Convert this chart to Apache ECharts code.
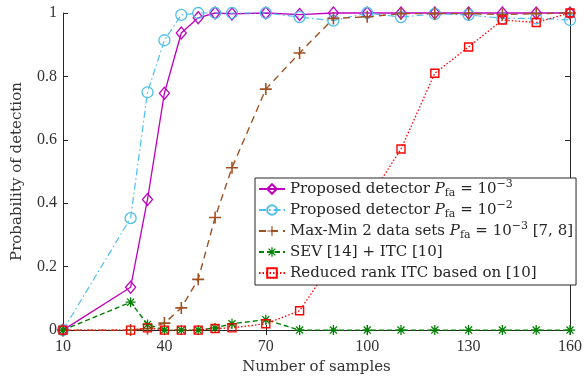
<!DOCTYPE html>
<html>
<head>
<meta charset="utf-8">
<script src="https://cdn.jsdelivr.net/npm/echarts@6/dist/echarts.min.js"></script>
<style>
html,body{margin:0;padding:0;background:#fff;}
#chart{width:585px;height:380px;}
</style>
</head>
<body>
<div id="chart"></div>
<script>
// ---- data ----
var samples = [10, 30, 35, 40, 45, 50, 55, 60, 70, 80, 90, 100, 110, 120, 130, 140, 150, 160];
var proposed1e3 = [0, 0.135, 0.412, 0.747, 0.937, 0.985, 1.0, 0.997, 1.0, 0.995, 1.0, 1.0, 1.0, 1.0, 1.0, 1.0, 1.0, 1.0];
var proposed1e2 = [0, 0.353, 0.75, 0.914, 0.994, 1.0, 1.0, 1.0, 1.0, 0.987, 0.976, 1.0, 0.987, 0.997, 0.994, 0.983, 0.983, 0.978];
var maxMin = [0, 0, 0.004, 0.022, 0.07, 0.16, 0.355, 0.512, 0.76, 0.874, 0.983, 0.988, 0.998, 0.998, 0.998, 0.995, 0.998, 1.0];
var sevItc = [0, 0.088, 0.018, 0, 0, 0, 0.007, 0.02, 0.033, 0, 0, 0, 0, 0, 0, 0, 0, 0];
var reducedRank = [0, 0, 0.007, 0, 0, 0, 0.005, 0.007, 0.02, 0.061, 0.218, 0.405, 0.571, 0.81, 0.893, 0.978, 0.97, 1.0];
var seriesNames = [
  'Proposed detector Pfa = 1e-3',
  'Proposed detector Pfa = 1e-2',
  'Max-Min 2 data sets Pfa = 1e-3 [7, 8]',
  'SEV [14] + ITC [10]',
  'Reduced rank ITC based on [10]'
];
var legendRich = [
  '{t|Proposed detector }{i|P}{sub|fa}{t| = 10}{sup|\u22123}',
  '{t|Proposed detector }{i|P}{sub|fa}{t| = 10}{sup|\u22122}',
  '{t|Max-Min 2 data sets }{i|P}{sub|fa}{t| = 10}{sup|\u22123}{t| [7, 8]}',
  '{t|SEV [14] + ITC [10]}{sub| }{sup| }',
  '{t|Reduced rank ITC based on [10]}{sub| }{sup| }'
];
var xTicks = {min: 10, max: 160, interval: 30};
var yTicks = {min: 0, max: 1, interval: 0.2};

function pairs(ys) { return samples.map(function (x, i) { return [x, ys[i]]; }); }

var plusPath = 'path://M-0.13,-1 L0.13,-1 L0.13,-0.13 L1,-0.13 L1,0.13 L0.13,0.13 L0.13,1 L-0.13,1 L-0.13,0.13 L-1,0.13 L-1,-0.13 L-0.13,-0.13 Z';
function asteriskPath() {
  var w = 0.13, s = 'path://';
  [0, 45, 90, 135].forEach(function (a) {
    var r = a * Math.PI / 180, c = Math.cos(r), sn = Math.sin(r);
    var pts = [[-1, -w], [1, -w], [1, w], [-1, w]].map(function (p) {
      return [(p[0] * c - p[1] * sn).toFixed(3), (p[0] * sn + p[1] * c).toFixed(3)];
    });
    s += 'M' + pts[0].join(',') + ' L' + pts[1].join(',') + ' L' + pts[2].join(',') + ' L' + pts[3].join(',') + ' Z ';
  });
  return s;
}

var MAG = '#BF00BF', CYAN = '#4DBEEE', BROWN = '#A0501E', GREEN = '#008000', RED = '#FF0000';
var FONT = 'DejaVu Serif';
var TXT = '#262626';

var chart = echarts.init(document.getElementById('chart'), null, {renderer: 'canvas'});

function axisCommon(extra) {
  var o = {
    type: 'value',
    axisLine: {show: true, lineStyle: {color: TXT, width: 1}},
    axisTick: {show: true, inside: true, length: 5, lineStyle: {color: TXT}},
    splitLine: {show: false},
    axisLabel: {fontFamily: 'Liberation Serif', fontSize: 16, color: TXT}
  };
  for (var k in extra) o[k] = extra[k];
  return o;
}

var option = {
  animation: false,
  backgroundColor: '#fff',
  grid: {left: 63, right: 12, top: 13, bottom: 46, containLabel: false},
  xAxis: [
    axisCommon({min: xTicks.min, max: xTicks.max, interval: xTicks.interval, position: 'bottom',
      axisLabel: {fontFamily: 'Liberation Serif', fontSize: 16, color: '#333', margin: 9},
      name: 'Number of samples', nameLocation: 'middle', nameGap: 27,
      nameTextStyle: {fontFamily: FONT, fontSize: 15, color: '#333'}}),
    axisCommon({min: xTicks.min, max: xTicks.max, interval: xTicks.interval, position: 'top', axisLabel: {show: false}})
  ],
  yAxis: [
    axisCommon({min: yTicks.min, max: yTicks.max, interval: yTicks.interval, position: 'left',
      axisLabel: {fontFamily: 'Liberation Serif', fontSize: 16, color: '#333', margin: 6},
      name: 'Probability of detection', nameLocation: 'middle', nameGap: 38,
      nameTextStyle: {fontFamily: FONT, fontSize: 15, color: '#333'}}),
    axisCommon({min: yTicks.min, max: yTicks.max, interval: yTicks.interval, position: 'right', axisLabel: {show: false}})
  ],
  legend: {
    orient: 'vertical',
    left: 255, top: 178,
    padding: [1, 3, 2, 3],
    itemGap: 1,
    itemWidth: 26, itemHeight: 12,
    backgroundColor: '#fff',
    borderColor: TXT, borderWidth: 1,
    data: seriesNames,
    formatter: function (name) { return legendRich[seriesNames.indexOf(name)]; },
    textStyle: {
      color: TXT, fontFamily: FONT, fontSize: 15,
      rich: {
        t: {fontFamily: FONT, fontSize: 15, lineHeight: 20, color: TXT},
        i: {fontFamily: FONT, fontSize: 15, fontStyle: 'italic', lineHeight: 20, color: TXT},
        sub: {fontFamily: FONT, fontSize: 11, lineHeight: 8, verticalAlign: 'bottom', color: TXT},
        sup: {fontFamily: FONT, fontSize: 11, lineHeight: 11, verticalAlign: 'top', color: TXT}
      }
    }
  },
  series: [
    {
      name: seriesNames[0], type: 'line', data: pairs(proposed1e3), clip: false,
      symbol: 'diamond', symbolSize: [10, 12],
      itemStyle: {color: 'transparent', borderColor: MAG, borderWidth: 1.3},
      lineStyle: {color: MAG, width: 1.3, type: 'solid'},
      emphasis: {disabled: true}
    },
    {
      name: seriesNames[1], type: 'line', data: pairs(proposed1e2), clip: false,
      symbol: 'circle', symbolSize: 11,
      itemStyle: {color: 'transparent', borderColor: CYAN, borderWidth: 1.3},
      lineStyle: {color: CYAN, width: 1.2, type: [7, 3, 1.5, 3]},
      emphasis: {disabled: true}
    },
    {
      name: seriesNames[2], type: 'line', data: pairs(maxMin), clip: false,
      symbol: plusPath, symbolSize: 12,
      itemStyle: {color: BROWN},
      lineStyle: {color: BROWN, width: 1.4, type: [7, 5]},
      emphasis: {disabled: true}
    },
    {
      name: seriesNames[3], type: 'line', data: pairs(sevItc), clip: false,
      symbol: asteriskPath(), symbolSize: 10,
      itemStyle: {color: GREEN},
      lineStyle: {color: GREEN, width: 1.4, type: [5, 3]},
      emphasis: {disabled: true}
    },
    {
      name: seriesNames[4], type: 'line', data: pairs(reducedRank), clip: false,
      symbol: 'rect', symbolSize: 8,
      itemStyle: {color: 'transparent', borderColor: RED, borderWidth: 1.4},
      lineStyle: {color: RED, width: 1.3, type: [1.5, 2]},
      emphasis: {disabled: true}
    }
  ]
};
chart.setOption(option);
</script>
</body>
</html>
